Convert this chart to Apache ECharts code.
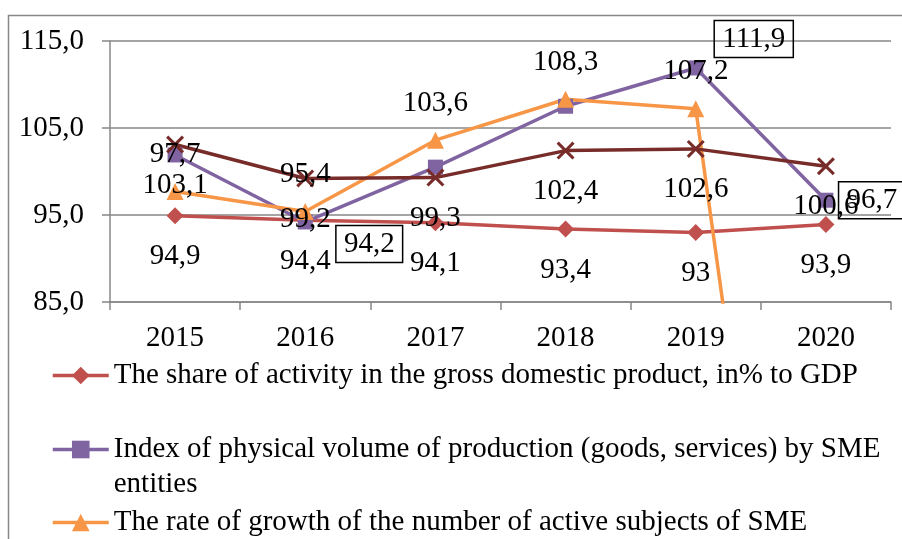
<!DOCTYPE html>
<html>
<head>
<meta charset="utf-8">
<script src="https://cdn.jsdelivr.net/npm/echarts@6/dist/echarts.min.js"></script>
<style>
  html, body { margin: 0; padding: 0; background: #fff; }
  #chart { width: 902px; height: 539px; }
</style>
</head>
<body>
<div id="chart"></div>
<script>
// data
var years = ['2015', '2016', '2017', '2018', '2019', '2020']
var shareGdp = [94.9, 94.4, 94.1, 93.4, 93, 93.9]
var volumeIndex = [101.9, 94.2, 100.5, 107.5, 111.9, 96.7]
var subjectsGrowth = [97.7, 95.4, 103.6, 108.3, 107.2, 0]
var otherIndex = [103.1, 99.2, 99.3, 102.4, 102.6, 100.6]
var volumeLabelled = [1, 4, 5]

var names = {
    share: 'The share of activity in the gross domestic product, in% to GDP',
    volume: 'Index of physical volume of production (goods, services) by SME entities',
    growth: 'The rate of growth of the number of active subjects of SME',
    other: 'Other indicator'
}

var FONT = '"Liberation Serif", "Times New Roman", serif'
var FS = 29
var GRAY = '#878787'

function comma(v) {
    return String(v).replace('.', ',')
}

var labelBase = {
    show: true,
    color: '#000',
    fontFamily: FONT,
    fontSize: FS,
    formatter: function (p) { return comma(p.value) }
}

// boxed labels of the purple series, shifted like in the original
var volumeOffsets = { 1: [64, 22], 4: [58, -29], 5: [46, 0] }
var volumeData = volumeIndex.map(function (v, i) {
    var lab = volumeLabelled.indexOf(i) >= 0
    return {
        value: v,
        label: lab ? {
            show: true,
            position: 'inside',
            offset: volumeOffsets[i],
            borderColor: '#000',
            borderWidth: 1.5,
            padding: [5, 8, 3, 8]
        } : { show: false }
    }
})
var growthData = subjectsGrowth.map(function (v) {
    return { value: v, label: { show: v >= 85 } }
})

var xPath = 'path://M0,1.2 L1.2,0 L5,3.8 L8.8,0 L10,1.2 L6.2,5 L10,8.8 L8.8,10 L5,6.2 L1.2,10 L0,8.8 L3.8,5 Z'

function legendFor(name, top) {
    return {
        data: [name],
        orient: 'vertical',
        left: 51,
        top: top,
        padding: 0,
        itemWidth: 56,
        itemHeight: 22,
        lineStyle: { width: 3.5 },
        textStyle: { fontFamily: FONT, fontSize: FS, color: '#000', lineHeight: 35 }
    }
}

var legends = [legendFor(names.share, 358), legendFor(names.volume, 397), legendFor(names.growth, 505)]
// blank first line keeps the icon level with the first line of text
legends[1].formatter = function () {
    return ' \nIndex of physical volume of production (goods, services) by SME\nentities'
}

var chart = echarts.init(document.getElementById('chart'))
chart.setOption({
    animation: false,
    graphic: [{
        type: 'rect',
        shape: { x: 8.5, y: 15.5, width: 1000, height: 1000 },
        style: { fill: 'none', stroke: GRAY, lineWidth: 1.5 },
        silent: true
    }],
    legend: legends,
    grid: { left: 110, right: 11, top: 41, bottom: 237 },
    xAxis: {
        type: 'category',
        data: years,
        boundaryGap: true,
        axisLine: { lineStyle: { color: GRAY, width: 1.5 } },
        axisTick: { show: true, length: 8, interval: 0, lineStyle: { color: GRAY, width: 1.5 } },
        axisLabel: { fontFamily: FONT, fontSize: FS, color: '#000', margin: 22 }
    },
    yAxis: {
        type: 'value',
        min: 85,
        max: 115,
        interval: 10,
        axisLine: { show: true, lineStyle: { color: GRAY, width: 1.5 } },
        axisTick: { show: true, length: 8, lineStyle: { color: GRAY, width: 1.5 } },
        splitLine: { lineStyle: { color: GRAY, width: 1.5 } },
        axisLabel: {
            fontFamily: FONT, fontSize: FS, color: '#000', margin: 26,
            formatter: function (v) { return v.toFixed(1).replace('.', ',') }
        }
    },
    series: [
        {
            name: names.share,
            type: 'line',
            data: shareGdp,
            symbol: 'diamond',
            symbolSize: 17,
            color: '#C0504D',
            lineStyle: { width: 3.5 },
            label: Object.assign({}, labelBase, { position: 'bottom', distance: 18 })
        },
        {
            name: names.volume,
            type: 'line',
            data: volumeData,
            symbol: 'rect',
            symbolSize: 15,
            color: '#8064A2',
            lineStyle: { width: 3.5 },
            label: Object.assign({}, labelBase)
        },
        {
            name: names.growth,
            type: 'line',
            data: growthData,
            symbol: 'triangle',
            symbolSize: 17,
            color: '#F79646',
            lineStyle: { width: 3.5 },
            label: Object.assign({}, labelBase, { position: 'top', distance: 14 })
        },
        {
            name: names.other,
            type: 'line',
            data: otherIndex,
            symbol: xPath,
            symbolSize: 18,
            color: '#772C2A',
            lineStyle: { width: 3.5 },
            label: Object.assign({}, labelBase, { position: 'bottom', distance: 17 })
        }
    ]
})
</script>
</body>
</html>
